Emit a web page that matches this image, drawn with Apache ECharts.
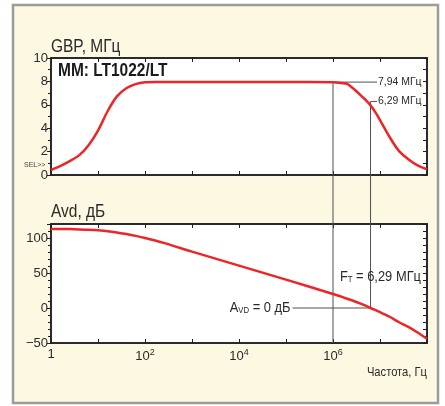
<!DOCTYPE html>
<html><head><meta charset="utf-8">
<script src="https://cdn.jsdelivr.net/npm/echarts@6/dist/echarts.min.js"></script>
<style>html,body{margin:0;padding:0;background:#fff;}#c{width:445px;height:406px;}</style>
</head><body><div id="c"></div>
<script>
// ---- data ----
const gbpFreq   = [1, 1.6, 2.5, 4, 6.3, 10, 16, 25, 40, 63, 100, 160, 1e3, 1e4, 1e5, 1e6, 1.6e6, 2e6, 2.5e6, 3.2e6, 4e6, 5e6, 6.29e6, 8e6, 1e7, 1.6e7, 2.5e7, 4e7, 6.3e7, 1e8];
const gbpValues = [0.43, 0.78, 1.18, 1.7, 2.55, 3.8, 5.45, 6.7, 7.42, 7.77, 7.92, 7.94, 7.94, 7.94, 7.94, 7.93, 7.85, 7.78, 7.5, 7.14, 6.76, 6.4, 5.95, 5.35, 4.7, 3.25, 2.08, 1.35, 0.83, 0.49];
const avdFreq   = [1, 1.6, 2.5, 4, 6.3, 10, 16, 25, 40, 63, 100, 250, 1e3, 1e4, 1e5, 1e6, 1.6e6, 2.5e6, 4e6, 6.29e6, 1e7, 1.6e7, 2.5e7, 4e7, 6.3e7, 1e8];
const avdValues = [113, 113, 112.7, 112.3, 111.8, 111, 109.8, 108, 105.6, 103, 100, 93, 80.5, 60.5, 40.5, 20, 15.5, 11, 6, 0, -6, -12.5, -20, -27, -35, -44];
const gbpTickLabels = ['0', '2', '4', '6', '8', '10'];
const avdTickLabels = ['−50', '0', '50', '100'];
const unityFreq = 1e6, gbpAtUnity = 7.94;
const ftFreq = 6.29e6, gbpAtFt = 6.29, avdAtFt = 0;
const labelUnity = '7,94 МГц', labelFt = '6,29 МГц';

const FONT = '"Liberation Sans Narrow", "Liberation Sans", Arial, sans-serif';
const RED = '#ec2626';
const AX = '#1d1d22';
const NARROW = 0.86;

const chart = echarts.init(document.getElementById('c'), null, {renderer: 'canvas'});

function logAxis(grid, pos, labels) {
  return {
    type: 'log', logBase: 10, min: 1, max: 1e8, splitNumber: 8, gridIndex: grid, position: pos,
    axisLine: {show: true, onZero: false, lineStyle: {color: AX, width: 1.5}},
    axisTick: {show: true, inside: true, length: 4, lineStyle: {color: AX}},
    splitLine: {show: false},
    axisLabel: labels ? {
      show: true, margin: 5, color: '#2a2a2a', fontFamily: FONT, fontSize: 13,
      formatter: function (v) {
        const e = Math.round(Math.log10(v));
        if (e === 0) return '1';
        if (e % 2 === 1 || e === 8) return '';
        return '10{sup|' + e + '}';
      },
      rich: {sup: {fontSize: 9, verticalAlign: 'top', lineHeight: 16, fontFamily: FONT, color: '#2a2a2a'}}
    } : {show: false}
  };
}

function valAxis(grid, pos, min, max, interval, labels, minorSplit, tickLabels) {
  return {
    type: 'value', gridIndex: grid, position: pos, min: min, max: max, interval: interval,
    axisLine: {show: true, onZero: false, lineStyle: {color: AX, width: 1.5}},
    axisTick: {show: true, inside: !labels, length: 4, lineStyle: {color: AX}},
    minorTick: minorSplit ? {show: true, splitNumber: minorSplit, length: 3, lineStyle: {color: AX}} : {show: false},
    splitLine: {show: false},
    axisLabel: labels ? {
      show: true, margin: 3, color: '#2a2a2a', fontFamily: FONT, fontSize: 13, showMaxLabel: tickLabels.length === 6,
      formatter: function (v) { const s = String(v).replace('-', '−'); return tickLabels.indexOf(s) >= 0 ? s : ''; }
    } : {show: false}
  };
}

const option = {
  animation: false,
  backgroundColor: 'transparent',
  grid: [
    {left: 51, top: 58, width: 376, height: 117, show: true, backgroundColor: '#ffffff', borderColor: AX, borderWidth: 1.5},
    {left: 51, top: 224, width: 376, height: 119, show: true, backgroundColor: '#ffffff', borderColor: AX, borderWidth: 1.5}
  ],
  xAxis: [
    logAxis(0, 'bottom', false),
    logAxis(0, 'top', false),
    logAxis(1, 'bottom', true),
    logAxis(1, 'top', false)
  ],
  yAxis: [
    valAxis(0, 'left', 0, 10, 2, true, 2, gbpTickLabels),
    valAxis(0, 'right', 0, 10, 1, false, 0),
    valAxis(1, 'left', -50, 120, 50, true, 5, avdTickLabels),
    valAxis(1, 'right', -50, 120, 10, false, 0)
  ],
  series: [
    {type: 'line', xAxisIndex: 0, yAxisIndex: 0, data: gbpFreq.map((f, i) => [f, gbpValues[i]]),
     showSymbol: false, smooth: 0.3, lineStyle: {color: RED, width: 2.5}, z: 5},
    {type: 'line', xAxisIndex: 2, yAxisIndex: 2, data: avdFreq.map((f, i) => [f, avdValues[i]]),
     showSymbol: false, smooth: 0.3, lineStyle: {color: RED, width: 2.5}, z: 5}
  ]
};
chart.setOption(option);

// ---- annotations positioned through the axes' scales ----
const c0 = {xAxisIndex: 0, yAxisIndex: 0};
const c1 = {xAxisIndex: 2, yAxisIndex: 2};
const pU = chart.convertToPixel(c0, [unityFreq, gbpAtUnity]);
const pF = chart.convertToPixel(c0, [ftFreq, gbpAtFt]);
const pUb = chart.convertToPixel(c1, [unityFreq, -50]);
const pF0 = chart.convertToPixel(c1, [ftFreq, avdAtFt]);
const pTR = chart.convertToPixel(c0, [1e8, 10]);
const pTL = chart.convertToPixel(c0, [1, 10]);
const pBTop = chart.convertToPixel(c1, [1, 120]);
const pB45 = chart.convertToPixel(c1, [1e8, 45]);
const pBbot = chart.convertToPixel(c1, [1e8, -50]);
const rightX = pTR[0];
const labX = rightX - 50;
const LINE = {stroke: '#505050', lineWidth: 1};
const TXT = '#2a2a2a';
const SUB = {fontSize: 9, verticalAlign: 'bottom', lineHeight: 14, fontFamily: FONT, fill: TXT};

chart.setOption({
  graphic: [
    {type: 'rect', z: -100, shape: {x: 13, y: 5, width: 425, height: 398},
     style: {fill: '#fcf8e1', stroke: '#9c9c9c', lineWidth: 2.5}},
    // vertical guide lines
    {type: 'line', z: 3, shape: {x1: pU[0], y1: pU[1], x2: pUb[0], y2: pUb[1]}, style: LINE},
    {type: 'line', z: 3, shape: {x1: pF[0], y1: pF[1], x2: pF0[0], y2: pF0[1]}, style: LINE},
    // horizontal leader lines
    {type: 'line', z: 3, shape: {x1: pU[0], y1: pU[1], x2: labX, y2: pU[1]}, style: LINE},
    {type: 'line', z: 3, shape: {x1: pF[0], y1: pF[1], x2: labX, y2: pF[1]}, style: LINE},
    {type: 'line', z: 3, shape: {x1: pF0[0] - 78, y1: pF0[1], x2: pF0[0], y2: pF0[1]}, style: LINE},
    // value labels
    {type: 'text', z: 10, x: labX + 1, y: pU[1], scaleX: 0.95, style: {text: labelUnity, fill: TXT, font: '11px ' + FONT, verticalAlign: 'middle', align: 'left'}},
    {type: 'text', z: 10, x: labX + 1, y: pF[1], scaleX: 0.95, style: {text: labelFt, fill: TXT, font: '11px ' + FONT, verticalAlign: 'middle', align: 'left'}},
    {type: 'text', z: 10, x: rightX - 6, y: pB45[1], scaleX: NARROW, style: {
      text: 'F{sub|T} = 6,29 МГц', fill: TXT, font: '15px ' + FONT, verticalAlign: 'middle', align: 'right', rich: {sub: SUB}}},
    {type: 'text', z: 10, x: pF0[0] - 80, y: pF0[1], scaleX: NARROW, style: {
      text: 'A{sub|VD} = 0 дБ', fill: TXT, font: '15px ' + FONT, verticalAlign: 'middle', align: 'right', rich: {sub: SUB}}},
    // titles
    {type: 'text', z: 10, x: pTL[0], y: pTL[1] - 11, scaleX: NARROW, style: {text: 'GBP, МГц', fill: TXT, font: '18px ' + FONT, verticalAlign: 'middle', align: 'left'}},
    {type: 'text', z: 10, x: pTL[0] + 7, y: pTL[1] + 13, scaleX: NARROW, style: {text: 'MM: LT1022/LT', fill: '#1a1a1a', font: 'bold 18px ' + FONT, verticalAlign: 'middle', align: 'left'}},
    {type: 'text', z: 10, x: pTL[0], y: pBTop[1] - 12, scaleX: NARROW, style: {text: 'Avd, дБ', fill: TXT, font: '18px ' + FONT, verticalAlign: 'middle', align: 'left'}},
    {type: 'text', z: 10, x: 24, y: 165, style: {text: 'SEL>>', fill: '#444', font: '7px ' + FONT, verticalAlign: 'middle', align: 'left'}},
    {type: 'text', z: 10, x: rightX, y: pBbot[1] + 29, scaleX: NARROW, style: {text: 'Частота, Гц', fill: TXT, font: '13px ' + FONT, verticalAlign: 'middle', align: 'right'}}
  ]
});
</script>
</body></html>
